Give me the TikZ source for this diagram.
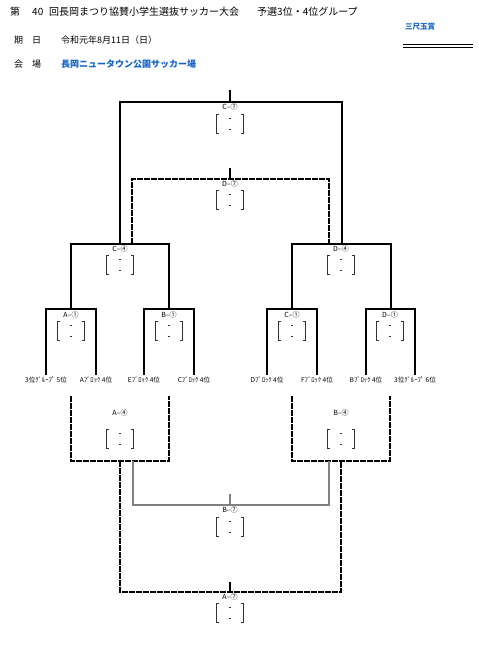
\documentclass[tikz,border=0pt]{standalone}
\usepackage{fontspec}
\newfontfamily\jpfont{Noto Sans CJK JP}
\definecolor{venueblue}{HTML}{1565C8}
\definecolor{rungray}{HTML}{808080}
\tikzset{
  winline/.style={line width=1.1pt,black},
  dashline/.style={line width=1.1pt,black,dash pattern=on 6.2pt off 0.8pt},
  grayline/.style={line width=1.1pt,rungray},
  headtxt/.style={inner sep=0pt,anchor=west,font=\jpfont\fontsize{10}{12}\selectfont},
  infotxt/.style={inner sep=0pt,anchor=west,font=\jpfont\fontsize{9}{11}\selectfont},
  matchlab/.style={inner sep=0pt,font=\jpfont\fontsize{7}{8}\selectfont},
  teamlab/.style={inner sep=0pt,font=\jpfont\fontsize{6.6}{7}\selectfont},
  scorebox/.style={minimum width=26pt,minimum height=19pt,inner sep=0pt},
  bracket/.style={line width=0.8pt,black!80},
}
\begin{document}
\begin{tikzpicture}[x=1pt,y=-1pt]
  \useasboundingbox[fill=white] (0,0) rectangle (479,653);
  % header
  \node[headtxt] (hno) at (10,12) {第};
  \node[headtxt] (hnum) at (32,12) {40};
  \node[headtxt] (htitle) at (49,12) {回長岡まつり協賛小学生選抜サッカー大会};
  \node[headtxt] (hgroup) at (257,12) {予選3位・4位グループ};
  \node[infotxt] (dlab) at (14,40) {期　日};
  \node[infotxt] (date) at (61,40) {令和元年8月11日（日）};
  \node[infotxt] (vlab) at (14,64) {会　場};
  \node[infotxt,text=venueblue,font=\jpfont\bfseries\fontsize{9}{11}\selectfont] (venue) at (61,64) {長岡ニュータウン公園サッカー場};
  \node[inner sep=0pt,text=venueblue,font=\jpfont\bfseries\fontsize{7.5}{9}\selectfont] (prize) at (420,27) {三尺玉賞};
  \draw[line width=0.9pt] (403,44.3) -- (473,44.3);
  \draw[line width=0.9pt] (403,47.3) -- (473,47.3);
  % upper rounds
  \foreach \xa/\xb/\yt/\yb in {46/96/309/375,144/194/309/375,267/317/309/375,366/415/309/375,71/169/244/309,292/391/244/309,120/342/102/244}
    \draw[winline] (\xa,\yb) -- (\xa,\yt) -- (\xb,\yt) -- (\xb,\yb);
  \draw[winline] (230,90) -- (230,102);
  \draw[dashline] (132,244) -- (132,179) -- (329,179) -- (329,244);
  \draw[winline] (230,168) -- (230,179);
  % lower rounds
  \foreach \xa/\xb/\yt/\yb in {71/169/396/461,292/390/396/461,120/341/461/592}
    \draw[dashline] (\xa,\yt) -- (\xa,\yb) -- (\xb,\yb) -- (\xb,\yt);
  \draw[winline] (230,582) -- (230,592);
  \draw[grayline] (133,461) -- (133,505) -- (329,505) -- (329,461);
  \draw[grayline] (230,494) -- (230,505);
  % teams
  \foreach \x/\lab in {46/{3位ｸﾞﾙｰﾌﾟ 5位},96/{Aﾌﾞﾛｯｸ 4位},144/{Eﾌﾞﾛｯｸ 4位},194/{Cﾌﾞﾛｯｸ 4位},267/{Dﾌﾞﾛｯｸ 4位},317/{Fﾌﾞﾛｯｸ 4位},366/{Bﾌﾞﾛｯｸ 4位},415/{3位ｸﾞﾙｰﾌﾟ 6位}}
    \node[teamlab] at (\x,380) {\lab};
  % matches
  \foreach \nm/\x/\ly/\sy/\lab in {c7/230/107/124/{C–⑦},d7/230/184/200/{D–⑦},c4/120/249/265/{C–④},d4/341/249/265/{D–④},a1/71/315/331/{A–①},b1/169/315/331/{B–①},c1/292/315/331/{C–①},d1/390/315/331/{D–①},a4/120/413/439/{A–④},b4/341/413/439/{B–④},b7/230/510/527/{B–⑦},a7/230/597/613/{A–⑦}} {
    \node[matchlab] (\nm) at (\x,\ly) {\lab};
    \node[scorebox] (\nm-s) at (\x,\sy) {};
    \draw[bracket] ([xshift=2.5pt]\nm-s.north west) -- (\nm-s.north west) -- (\nm-s.south west) -- ++(2.5,0);
    \draw[bracket] ([xshift=-2.5pt]\nm-s.north east) -- (\nm-s.north east) -- (\nm-s.south east) -- ++(-2.5,0);
    \draw[bracket] ([xshift=-1pt,yshift=-4.5pt]\nm-s.north) -- ++(2,0);
    \draw[bracket] ([xshift=-1pt,yshift=4.5pt]\nm-s.south) -- ++(2,0);
  }
\end{tikzpicture}
\end{document}
